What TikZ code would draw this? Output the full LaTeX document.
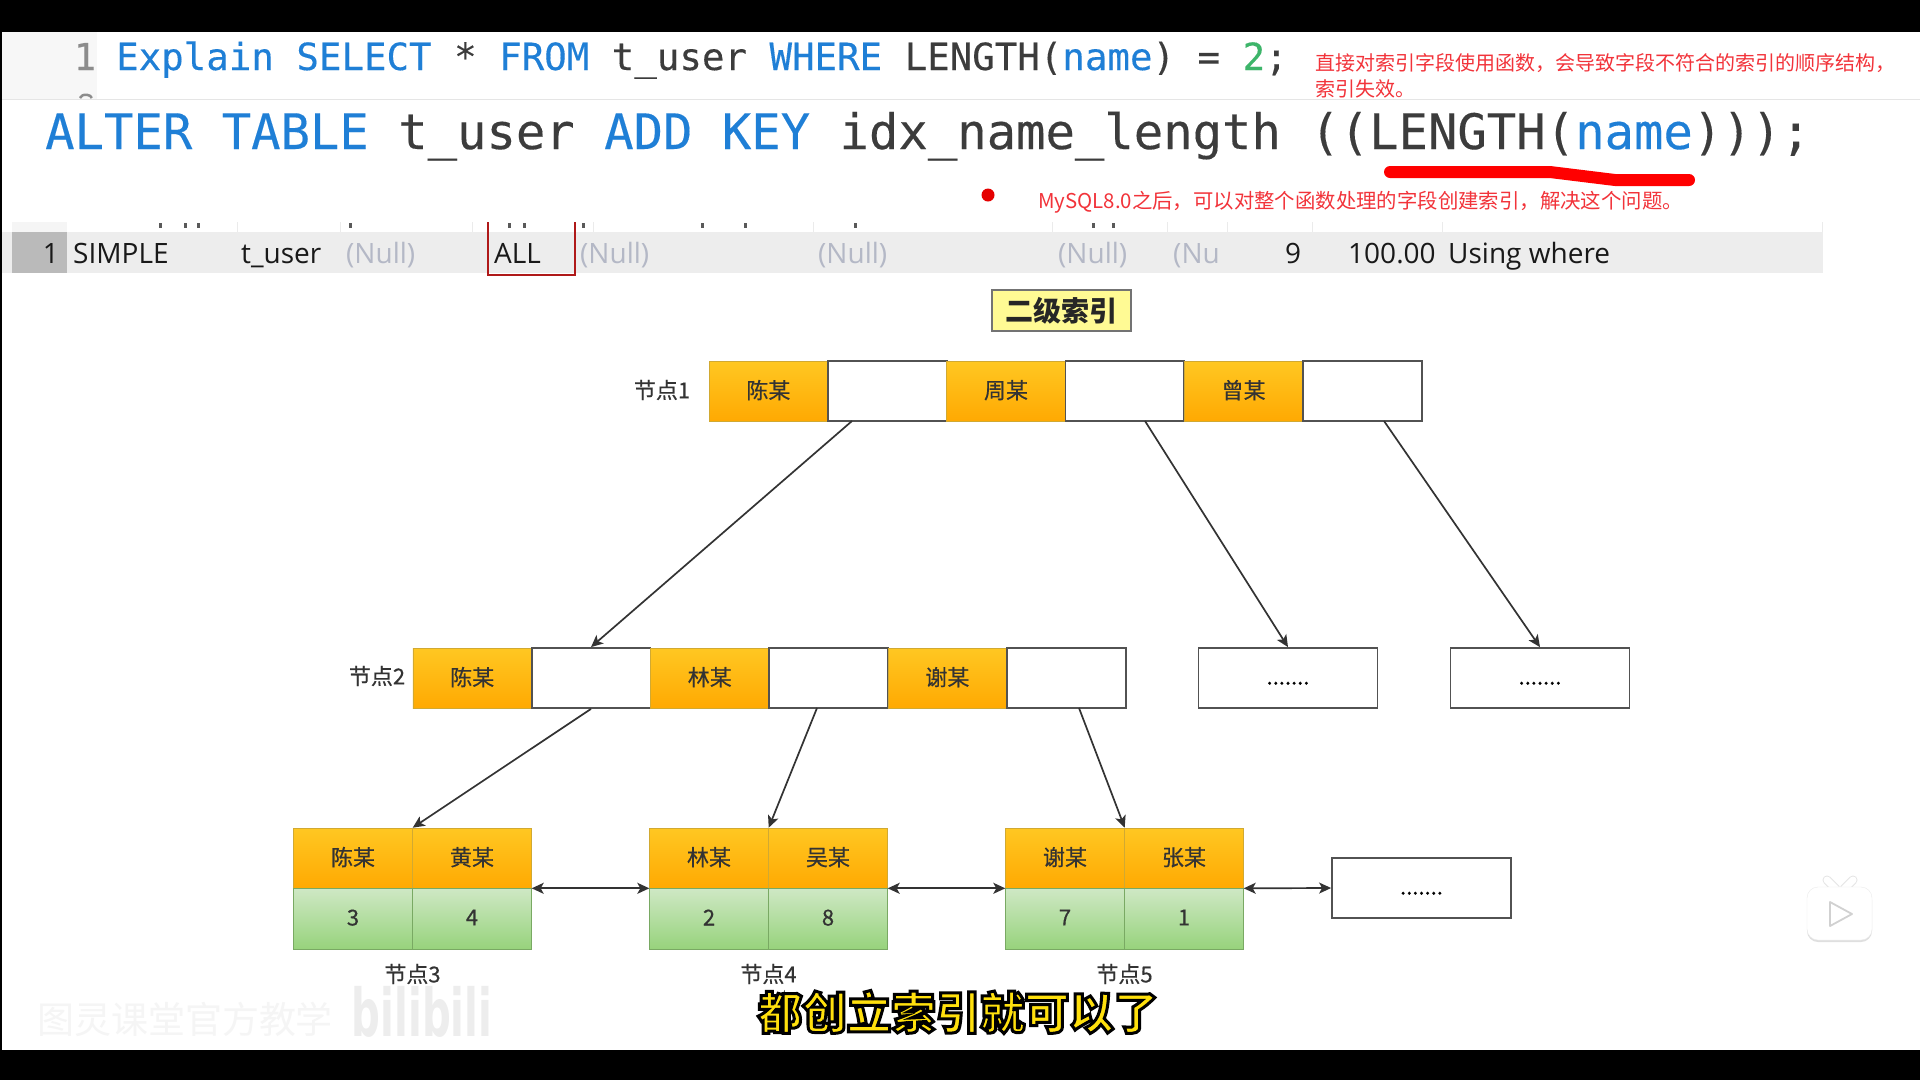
\documentclass[tikz,border=0pt]{standalone}
\usepackage{fontspec}
\setmainfont{Noto Sans CJK SC}
\newfontfamily\codefont[FakeBold=0.25]{DejaVu Sans Mono}
\newfontfamily\rowfont{Open Sans}
\newfontfamily\cjkfont{Noto Sans CJK SC}
\newfontfamily\cellfont[FakeBold=0.5]{Noto Sans CJK SC}
\newfontfamily\logofont{DejaVu Sans}
\usetikzlibrary{arrows.meta,shadows}
\definecolor{kwblue}{HTML}{1F7FD6}
\definecolor{codegray}{HTML}{3C3C3C}
\definecolor{numgreen}{HTML}{3DB56A}
\definecolor{nullgray}{HTML}{B4B8C6}
\definecolor{notered}{HTML}{F2333A}
\definecolor{keytop}{HTML}{FFC722}
\definecolor{keybottom}{HTML}{FFA902}
\definecolor{valtop}{HTML}{CFE8C5}
\definecolor{valbottom}{HTML}{97D37C}
\newcommand{\kw}[1]{\textcolor{kwblue}{#1}}
\tikzset{
  keycell/.style={draw=keytop!80!black!90,line width=0.6pt,top color=keytop,bottom color=keybottom,minimum width=118.8pt,minimum height=60pt,inner sep=0pt,text depth=3.5pt,font=\cellfont\fontsize{22}{22}\selectfont,text=black!80},
  valcell/.style={draw=valbottom!80!black,line width=0.6pt,top color=valtop,bottom color=valbottom,minimum width=118.8pt,minimum height=61pt,inner sep=0pt,text depth=2pt,font=\cellfont\fontsize{22}{22}\selectfont,text=black!80},
  ptrcell/.style={draw=black!68,line width=1.8pt,fill=white,minimum width=118.8pt,minimum height=60pt,inner sep=0pt},
  dotbox/.style={draw=black!68,line width=1.8pt,fill=white,minimum width=179pt,minimum height=60pt,inner sep=0pt,text height=13pt,text depth=0pt,font=\cellfont\fontsize{22}{22}\selectfont},
  nodelabel/.style={inner sep=0pt,font=\cellfont\fontsize{22}{22}\selectfont,text=black!80},
  rowtext/.style={anchor=base west,inner sep=0pt,font=\rowfont\fontsize{28}{28}\selectfont,text=black!90},
  rownull/.style={rowtext,text=nullgray},
  link/.style={-{Stealth[length=12pt,width=11pt,inset=3pt]},line width=1.7pt,draw=black!80},
  twolink/.style={{Stealth[length=12pt,width=11pt,inset=3pt]}-{Stealth[length=12pt,width=11pt,inset=3pt]},line width=1.7pt,draw=black!80},
  notetext/.style={anchor=west,inner sep=0pt,font=\cjkfont\fontsize{20}{20}\selectfont,text=notered}
}
\begin{document}
\begin{tikzpicture}[x=1pt,y=-1pt]
\useasboundingbox (0,0) rectangle (1920,1080);
\fill[black] (0,0) rectangle (1920,1080);
\fill[white] (2,32) rectangle (1920,1050);
% code lines
\fill[black!3] (2,32) rectangle (97,99);
\draw[black!45,line width=2.5pt] (80,98) arc[start angle=170,end angle=10,x radius=6pt,y radius=4pt];
\draw[black!10] (2,99) -- (1920,99);
\node[anchor=base,inner sep=0pt,text=black!45,font=\codefont\fontsize{37}{37}\selectfont] (ln1) at (85,70) {1};
\node[anchor=base west,inner sep=0pt,text=codegray,font=\codefont\fontsize{37.42}{37.42}\selectfont] (sql1) at (116,70) {\kw{Explain SELECT} * \kw{FROM} t\_user \kw{WHERE} LENGTH(\kw{name}) = \textcolor{numgreen}{2};};
\node[anchor=base west,inner sep=0pt,text=codegray,font=\codefont\fontsize{48.87}{48.87}\selectfont] (sql2) at (45,149) {\kw{ALTER TABLE} t\_user \kw{ADD KEY} idx\_name\_length ((LENGTH(\kw{name})));};
\draw[red,line width=12pt,line cap=round,line join=round] (1390,172) -- (1550,172) -- (1615,180) -- (1689,180);
\fill[red!90!black] (988,195) circle (6.5);
\node[notetext] (note1) at (1315,63) {直接对索引字段使用函数，会导致字段不符合的索引的顺序结构，};
\node[notetext] (note2) at (1315,89) {索引失效。};
\node[notetext,font=\cjkfont\fontsize{20.4}{20.4}\selectfont] (note3) at (1038,202) {MySQL8.0之后，可以对整个函数处理的字段创建索引，解决这个问题。};
% result row
\fill[black!4] (12,222) rectangle (67,232);
\fill[black!7] (2,232) rectangle (1823,273);
\fill[black!27] (12,232) rectangle (67,273);
\foreach \x in {237,340,472,593,813,1052,1167,1227,1312,1442,1822}
  \draw[black!8] (\x,222) -- (\x,232);
\foreach \x in {159,184,197,349,508,523,582,701,744,854,1092,1112}
  \fill[black!65] (\x,223) rectangle +(3,5);
\draw[red!65!black!90,line width=2.6pt] (488,222) -- (488,275) -- (575,275) -- (575,222);
\node[rowtext,anchor=base east] (rownum) at (59,263) {1};
\node[rowtext] (r1) at (73,263) {SIMPLE};
\node[rowtext] (r2) at (241,263) {t\_user};
\node[rownull] (r3) at (346,263) {(Null)};
\node[rowtext] (r4) at (494,263) {ALL};
\node[rownull] (r5) at (580,263) {(Null)};
\node[rownull] (r6) at (818,263) {(Null)};
\node[rownull] (r7) at (1058,263) {(Null)};
\node[rownull] (r8) at (1173,263) {(Nu};
\node[rowtext] (r9) at (1285,263) {9};
\node[rowtext] (r10) at (1348,263) {100.00};
\node[rowtext] (r11) at (1448,263) {Using where};
% title
\node[draw=black!55,line width=1.6pt,fill=yellow!42,minimum width=139pt,minimum height=41pt,inner sep=0pt,font=\cjkfont\bfseries\fontsize{28}{28}\selectfont,text=black!85] (title) at (1061.5,310.5) {二级索引};
% node 1
\node[nodelabel] (lab1) at (662,390) {节点1};
\node[keycell] (n1k1) at (768.4,391) {陈某};
\node[ptrcell] (n1p1) at (887.2,391) {};
\node[keycell] (n1k2) at (1006,391) {周某};
\node[ptrcell] (n1p2) at (1124.8,391) {};
\node[keycell] (n1k3) at (1243.6,391) {曾某};
\node[ptrcell] (n1p3) at (1362.4,391) {};
% node 2
\node[nodelabel] (lab2) at (377,676) {节点2};
\node[keycell] (n2k1) at (472.2,678) {陈某};
\node[ptrcell] (n2p1) at (591,678) {};
\node[keycell] (n2k2) at (709.8,678) {林某};
\node[ptrcell] (n2p2) at (828.6,678) {};
\node[keycell] (n2k3) at (947.4,678) {谢某};
\node[ptrcell] (n2p3) at (1066.2,678) {};
\node[dotbox] (more1) at (1288,678) {.......};
\node[dotbox] (more2) at (1540,678) {.......};
% leaves
\foreach \n/\x/\a/\b/\c/\d in {3/353/陈某/黄某/3/4,4/709/林某/吴某/2/8,5/1065/谢某/张某/7/1}{
  \node[keycell] (leaf\n k1) at (\x,858) {\a};
  \node[keycell] (leaf\n k2) at (\x+119,858) {\b};
  \node[valcell] (leaf\n v1) at (\x,918.5) {\c};
  \node[valcell] (leaf\n v2) at (\x+119,918.5) {\d};
  \node[nodelabel] (lab\n) at (\x+59.5,974) {节点\n};
}
\node[dotbox] (more3) at (1421.5,888) {.......};
% links
\coordinate (s1) at (852,421);
\coordinate (s2) at (1145,421);
\coordinate (s3) at (1384,421);
\coordinate (s4) at (817,708);
\coordinate (s5) at (1079,708);
\draw[link] (s1) -- (n2p1.north);
\draw[link] (s2) -- (more1.north);
\draw[link] (s3) -- (more2.north);
\draw[link] (n2p1.south) -- (leaf3k1.north east);
\draw[link] (s4) -- (leaf4k1.north east);
\draw[link] (s5) -- (leaf5k1.north east);
\draw[twolink] (leaf3k2.south east) -- (leaf4k1.south west);
\draw[twolink] (leaf4k2.south east) -- (leaf5k1.south west);
\draw[twolink] (leaf5k2.south east) -- (more3.west);
% overlay
\node[inner sep=0pt,text=black!4,font=\cjkfont\fontsize{37}{37}\selectfont] (mark) at (185,1019) {图灵课堂官方教学};
\node[inner sep=0pt,text=black!7,font=\logofont\bfseries\fontsize{66}{66}\selectfont,xscale=0.61] (logo) at (422,1012) {bilibili};
\node[inner sep=0pt,font=\cjkfont\bfseries\fontsize{44.5}{44.5}\selectfont] (subtitle) at (958,1012) {\special{pdf:code q 2 Tr 3 w 0 0 0 RG 1 0.88 0.05 rg}都创立索引就可以了\special{pdf:code Q}};
% tv icon
\draw[black!10,line width=9pt,line cap=round] (1827,880) -- (1836,889);
\draw[black!10,line width=9pt,line cap=round] (1853,880) -- (1844,889);
\draw[white,line width=7pt,line cap=round] (1827,880) -- (1836,889);
\draw[white,line width=7pt,line cap=round] (1853,880) -- (1844,889);
\node[draw=black!8,fill=white,rounded corners=11pt,drop shadow={opacity=0.25,shadow xshift=0pt,shadow yshift=-2pt},minimum width=65pt,minimum height=53pt] (tv) at (1839.5,913.5) {};
\draw[black!18,fill=white,line width=1.8pt,line join=round] (1830,902) -- (1852,914) -- (1830,926) -- cycle;
\end{tikzpicture}
\end{document}
